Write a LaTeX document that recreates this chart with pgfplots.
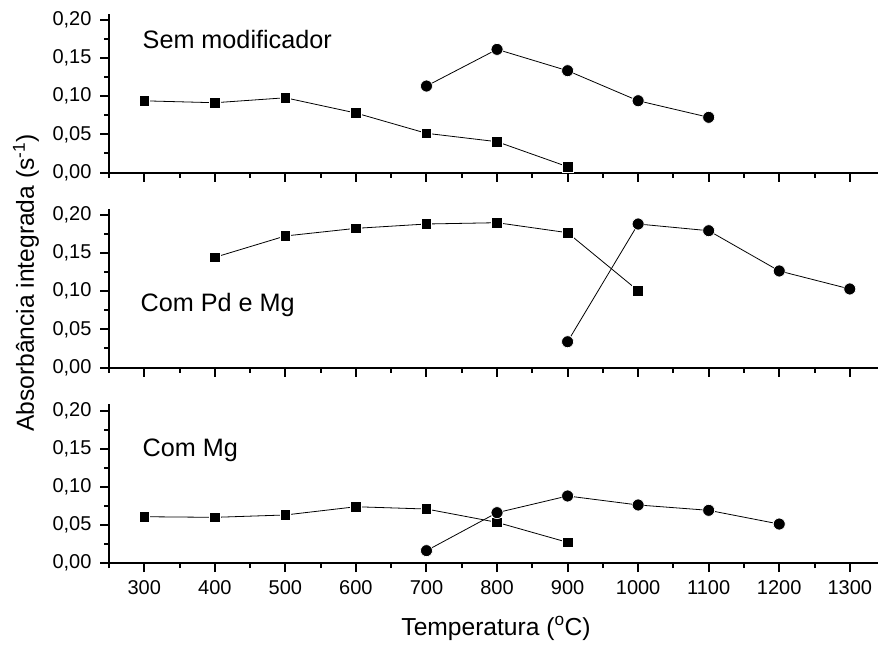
\documentclass[border=0pt]{standalone}
\usepackage{pgfplots}
\pgfplotsset{compat=1.18}
\usepackage{fontspec}
\setmainfont{Liberation Sans}

\newcommand{\tickfont}{\fontsize{20}{23}\selectfont}
\newcommand{\labfont}{\fontsize{24.6}{28}\selectfont}
\newcommand{\panfont}{\fontsize{25.2}{29}\selectfont}

\pgfplotsset{
  panel/.style={
    scale only axis, width=769pt, height=158.6pt,
    xmin=250, xmax=1340, ymin=0, ymax=0.208,
    axis x line=bottom, axis y line=left,
    axis line style={-, line width=2pt},
    tick align=outside, major tick length=9pt, minor tick length=5pt,
    every tick/.style={black, line width=2pt},
    xtick={300,400,500,600,700,800,900,1000,1100,1200,1300},
    minor xtick={250,350,450,550,650,750,850,950,1050,1150,1250},
    ytick={0,0.05,0.1,0.15,0.2},
    minor ytick={0.025,0.075,0.125,0.175},
    /pgf/number format/.cd, fixed, fixed zerofill, precision=2, use comma,
      assume math mode=true,
    /pgfplots/.cd,
    yticklabel shift=5pt, xticklabel shift=5pt,
    yticklabel style={font=\tickfont},
    xticklabel style={font=\tickfont, /pgf/number format/precision=0,
      /pgf/number format/1000 sep={}},
    clip=false,
  },
  sq/.style={black, line width=0.8pt, mark=square*, mark size=5.3pt,
    mark options={fill=black, draw=white, line width=0.7pt, solid}},
  ci/.style={black, line width=0.8pt, mark=*, mark size=6pt,
    mark options={fill=black, draw=white, line width=0.7pt, solid}},
}

\begin{document}
\begin{tikzpicture}
\useasboundingbox (0pt,0pt) rectangle (878pt,-648pt);

% Sem modificador
\begin{axis}[panel, at={(109pt,-172.5pt)}, anchor=south west, xticklabels={}]
  \addplot[sq] coordinates {(300,0.094) (400,0.0915) (500,0.098) (600,0.078)
    (700,0.0514) (800,0.0404) (900,0.0076)};
  \addplot[ci] coordinates {(700,0.1134) (800,0.1615) (900,0.1335)
    (1000,0.0941) (1100,0.0724)};
\end{axis}

% Com Pd e Mg
\begin{axis}[panel, at={(109pt,-367.5pt)}, anchor=south west, xticklabels={}]
  \addplot[sq] coordinates {(400,0.1445) (500,0.1725) (600,0.1825) (700,0.1882)
    (800,0.1899) (900,0.1768) (1000,0.1007)};
  \addplot[ci] coordinates {(900,0.0338) (1000,0.1882) (1100,0.1794)
    (1200,0.1266) (1300,0.1030)};
\end{axis}

% Com Mg
\begin{axis}[panel, at={(109pt,-563pt)}, anchor=south west]
  \addplot[sq] coordinates {(300,0.0607) (400,0.0599) (500,0.0630) (600,0.0738)
    (700,0.0708) (800,0.0533) (900,0.0271)};
  \addplot[ci] coordinates {(700,0.0162) (800,0.0660) (900,0.0879)
    (1000,0.0761) (1100,0.0691) (1200,0.0511)};
\end{axis}

\node[anchor=base west, inner sep=0pt, font=\panfont] at (142.5pt,-48.3pt) {Sem modificador};
\node[anchor=base west, inner sep=0pt, font=\panfont] at (140.5pt,-311pt) {Com Pd e Mg};
\node[anchor=base west, inner sep=0pt, font=\panfont] at (142.5pt,-456.7pt) {Com Mg};

\node[rotate=90, font=\labfont, inner sep=0pt] at (26pt,-283pt) {Absorbância integrada (s\textsuperscript{-1})};
\node[anchor=base, font=\labfont, inner sep=0pt] at (496pt,-635pt) {Temperatura (\textsuperscript{o}C)};
\end{tikzpicture}
\end{document}
